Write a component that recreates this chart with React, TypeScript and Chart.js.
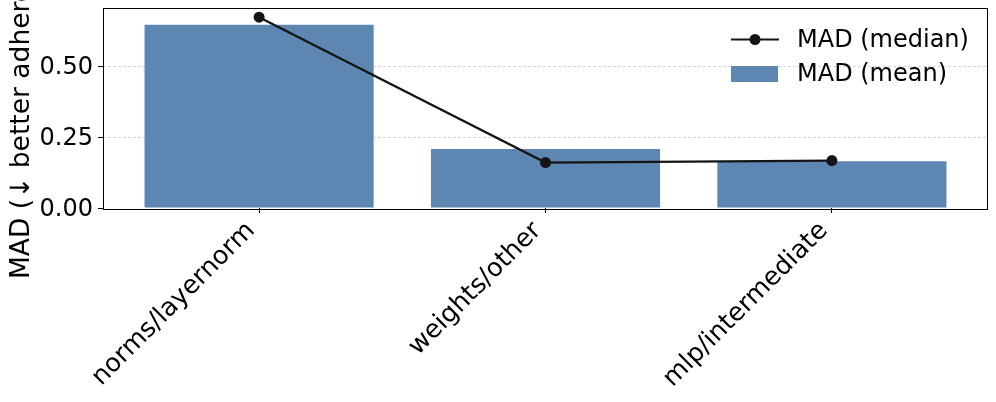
import React, { useEffect, useRef } from "react";
import { Chart, registerables } from "chart.js";

Chart.register(...registerables);

const categories = ["norms/layernorm", "weights/other", "mlp/intermediate"];
const meanValues = [0.645, 0.208, 0.165];
const medianValues = [0.672, 0.16, 0.167];
const yTicks = [0, 0.25, 0.5];
const yMax = 0.706;
const yTitle = "MAD (↓ better adherence)";
const medianLabel = "MAD (median)";
const meanLabel = "MAD (mean)";

const FONT = "DejaVu Sans";
const FS = 24;
const XFS = 25.5;
const TITLE_FS = 26.5;
const BAR_COLOR = "#5e86b2";
const LINE_COLOR = "#141414";

const framePlugin = {
  id: "frameAndExtras",
  afterDraw(chart: any) {
    const { ctx, chartArea } = chart;
    ctx.save();
    ctx.strokeStyle = "#000";
    ctx.lineWidth = 1;
    ctx.strokeRect(
      Math.round(chartArea.left) + 0.5,
      Math.round(chartArea.top) + 0.5,
      Math.round(chartArea.right - chartArea.left) - 1,
      Math.round(chartArea.bottom - chartArea.top)
    );
    ctx.fillStyle = "#000";
    ctx.font = `${TITLE_FS}px "${FONT}"`;
    ctx.translate(28.5, 279);
    ctx.rotate(-Math.PI / 2);
    ctx.textAlign = "left";
    ctx.textBaseline = "alphabetic";
    ctx.fillText(yTitle, 0, 0);
    ctx.restore();

    const ds = chart.data.datasets;
    ctx.save();
    ctx.font = `${FS}px "${FONT}"`;
    ctx.textBaseline = "middle";
    ctx.textAlign = "left";
    const lx0 = 731;
    const ly0 = 39.5;
    const gap = 34.5;
    ctx.strokeStyle = ds[0].borderColor;
    ctx.lineWidth = 2.2;
    ctx.beginPath();
    ctx.moveTo(lx0, ly0);
    ctx.lineTo(lx0 + 48, ly0);
    ctx.stroke();
    ctx.fillStyle = ds[0].borderColor;
    ctx.beginPath();
    ctx.arc(lx0 + 24, ly0, 5.5, 0, Math.PI * 2);
    ctx.fill();
    ctx.fillStyle = "#000";
    ctx.fillText(ds[0].label, 797, ly0 + 1);
    ctx.fillStyle = ds[1].backgroundColor;
    ctx.fillRect(lx0, ly0 + gap - 8, 47, 16);
    ctx.fillStyle = "#000";
    ctx.fillText(ds[1].label, 797, ly0 + gap + 1);
    ctx.restore();
  },
};

export default function App() {
  const ref = useRef<HTMLCanvasElement | null>(null);
  useEffect(() => {
    document.body.style.margin = "0";
    Chart.defaults.font.family = FONT;
    const chart = new Chart(ref.current as HTMLCanvasElement, {
      type: "bar",
      data: {
        datasets: [
          {
            type: "line",
            label: medianLabel,
            data: categories.map((_, i) => ({ x: i, y: medianValues[i] })),
            borderColor: LINE_COLOR,
            backgroundColor: LINE_COLOR,
            borderWidth: 2.2,
            pointRadius: 5.5,
            pointBackgroundColor: LINE_COLOR,
            pointBorderWidth: 0,
            tension: 0,
          } as any,
          {
            type: "bar",
            label: meanLabel,
            data: categories.map((_, i) => ({ x: i, y: meanValues[i] })),
            backgroundColor: BAR_COLOR,
            borderWidth: 0,
            barPercentage: 0.8,
            categoryPercentage: 1,
          } as any,
        ],
      },
      options: {
        responsive: false,
        animation: false,
        layout: { padding: { top: 7.5, right: 8, left: 0, bottom: 0 } },
        plugins: { legend: { display: false }, tooltip: { enabled: false } },
        scales: {
          x: {
            type: "linear",
            offset: false,
            min: -0.545,
            max: 2.545,
            afterBuildTicks: (scale: any) => {
              scale.ticks = categories.map((_, i) => ({ value: i }));
            },
            afterFit: (scale: any) => {
              scale.height = 194;
              scale.paddingLeft = 0;
              scale.paddingRight = 0;
            },
            ticks: {
              autoSkip: false,
              maxRotation: 45,
              minRotation: 45,
              padding: 3,
              labelOffset: -8,
              color: "#000",
              font: { size: XFS, family: FONT },
              callback: (v: any) => categories[Math.round(Number(v))] ?? "",
            },
            grid: {
              offset: false,
              drawOnChartArea: false,
              drawTicks: true,
              tickLength: 5,
              tickColor: "#000",
              tickWidth: 1,
            },
            border: { display: false },
          },
          y: {
            type: "linear",
            min: 0,
            max: yMax,
            afterBuildTicks: (scale: any) => {
              scale.ticks = yTicks.map((v) => ({ value: v }));
            },
            afterFit: (scale: any) => {
              scale.width = 103;
              scale.paddingTop = 0;
              scale.paddingBottom = 0;
            },
            ticks: {
              padding: 5,
              labelOffset: 2,
              color: "#000",
              font: { size: FS, family: FONT },
              callback: (v: any) => Number(v).toFixed(2),
            },
            grid: {
              color: (c: any) => (c.tick && c.tick.value === 0 ? "rgba(0,0,0,0)" : "#cccccc"),
              lineWidth: 0.8,
              drawTicks: true,
              tickLength: 5,
              tickColor: "#000",
              tickWidth: 1,
              tickBorderDash: [],
            },
            border: { display: false, dash: [3, 2] },
          },
        },
      },
      plugins: [framePlugin],
    } as any);
    return () => chart.destroy();
  }, []);
  return (
    <div style={{ width: 996, height: 402 }}>
      <canvas ref={ref} width={996} height={402} />
    </div>
  );
}
